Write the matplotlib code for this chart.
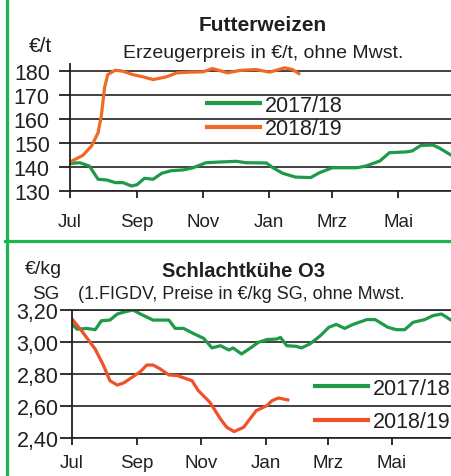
import matplotlib
matplotlib.use("Agg")
import matplotlib.pyplot as plt
from matplotlib.lines import Line2D

plt.rcParams["font.family"] = ["Liberation Sans", "DejaVu Sans"]

# days since 1 July
month_days = [0, 62, 123, 184, 243, 304]
month_labels = ["Jul", "Sep", "Nov", "Jan", "Mrz", "Mai"]

# Futterweizen, Euro/t
wheat_1718_x = [0, 9, 18, 26, 34, 42, 49, 57, 62, 69, 77, 85, 94, 105, 114, 126, 139, 154, 163,
                182, 188, 197, 209, 223, 231, 243, 256, 266, 274, 287, 296, 311, 317, 325, 336, 342, 353]
wheat_1718_y = [141.5, 141.8, 140.4, 134.9, 134.6, 133.5, 133.5, 132.1, 132.6, 135.3, 134.9, 137.4,
                138.5, 138.8, 139.7, 141.8, 142.1, 142.4, 141.8, 141.7, 139.7, 137.4, 135.8, 135.6,
                137.6, 139.7, 139.7, 139.7, 140.4, 142.5, 146.0, 146.3, 146.7, 149.0, 149.2, 148.0, 145.0]
wheat_1819_x = [0, 12, 20, 26, 29, 32, 35, 42, 49, 58, 68, 77, 89, 99, 111, 123, 132, 146, 157,
                172, 185, 199, 206, 212]
wheat_1819_y = [142.1, 144.9, 148.8, 154.3, 161.3, 173.1, 178.6, 180.4, 180.0, 178.6, 177.6, 176.5,
                177.6, 179.3, 179.6, 179.7, 181.1, 179.3, 180.3, 180.7, 179.6, 181.4, 180.7, 179.0]

# Schlachtkuehe O3, Euro/kg SG
cow_1718_x = [0, 5, 14, 22, 28, 36, 43, 51, 58, 65, 77, 92, 98, 106, 115, 125, 133, 141, 149, 153,
              161, 169, 177, 185, 195, 198, 204, 213, 218, 226, 236, 244, 251, 259, 267, 280, 288,
              300, 308, 316, 324, 335, 343, 351, 360]
cow_1718_y = [3.11, 3.08, 3.085, 3.077, 3.133, 3.137, 3.175, 3.19, 3.20, 3.175, 3.137, 3.137, 3.085,
              3.085, 3.054, 3.023, 2.963, 2.977, 2.95, 2.963, 2.925, 2.96, 2.998, 3.015, 3.019, 3.029,
              2.977, 2.973, 2.963, 2.988, 3.04, 3.092, 3.11, 3.085, 3.11, 3.14, 3.14, 3.092, 3.077,
              3.077, 3.123, 3.14, 3.165, 3.175, 3.137]
cow_1819_x = [0, 9, 22, 30, 36, 43, 49, 57, 65, 71, 77, 84, 92, 100, 114, 120, 131, 141, 147, 154,
              163, 175, 185, 190, 196, 205]
cow_1819_y = [3.144, 3.071, 2.956, 2.852, 2.758, 2.731, 2.744, 2.779, 2.815, 2.856, 2.856, 2.831,
              2.794, 2.79, 2.758, 2.696, 2.623, 2.519, 2.467, 2.44, 2.467, 2.571, 2.602, 2.633, 2.65,
              2.638]

green = "#1f9a48"
orange = "#f06a26"
red_orange = "#f0502a"
frame_green = "#1db550"
ink = "#231f20"

fig = plt.figure(figsize=(4.51, 4.77), dpi=100)


def px(x, y):
    # pixel position (from top-left) -> figure fraction
    return x / 451, 1 - y / 477


def style_axes(ax, yticks, ylabels, xmax, ylim, ylen, ypad, xpad):
    ax.set_xlim(0, xmax)
    ax.set_ylim(*ylim)
    ax.set_yticks(yticks)
    ax.set_yticklabels(ylabels)
    ax.set_xticks(month_days)
    ax.set_xticklabels(month_labels)
    for s in ["top", "right", "bottom"]:
        ax.spines[s].set_visible(False)
    ax.spines["left"].set_linewidth(1.3)
    ax.spines["left"].set_color(ink)
    ax.grid(axis="y", color=ink, linewidth=1.2)
    ax.set_axisbelow(True)
    ax.tick_params(axis="y", length=ylen, width=1.3, labelsize=15.5, pad=ypad, color=ink,
                   labelcolor=ink)
    ax.tick_params(axis="x", length=5, width=1.3, labelsize=13.5, pad=xpad, color=ink,
                   labelcolor=ink)
    ax.axhline(ylim[0], color=ink, lw=1.2, clip_on=False)
    ax.patch.set_alpha(0)


# top panel
l, b = px(70, 192)
ax1 = fig.add_axes([l, b, 1 - l, 127 / 477])
ax1.plot(wheat_1718_x, wheat_1718_y, color=green, lw=2.3)
ax1.plot(wheat_1819_x, wheat_1819_y, color=orange, lw=2.3)
style_axes(ax1, [130, 140, 150, 160, 170, 180], ["130", "140", "150", "160", "170", "180"],
           353, (130, 183), 8, 6.5, 11)
h1 = [Line2D([], [], color=green, lw=3), Line2D([], [], color=orange, lw=3)]
ax1.legend(h1, ["2017/18", "2018/19"], loc="center left", bbox_to_anchor=(0.36, 0.583),
           frameon=False, fontsize=15.5, handlelength=2.45, handletextpad=0.25,
           labelspacing=0.12, borderpad=0, borderaxespad=0, labelcolor=ink)

fig.text(*px(263, 31), "Futterweizen", ha="center", va="baseline",
         fontsize=15, fontweight="bold", color=ink)
fig.text(*px(263, 58), "Erzeugerpreis in €/t, ohne Mwst.", ha="center", va="baseline",
         fontsize=14, color=ink)
fig.text(*px(40, 52), "€/t", ha="center", va="baseline", fontsize=15, color=ink)

# bottom panel
l, b = px(72, 439)
ax2 = fig.add_axes([l, b, 1 - l, 128 / 477])
ax2.plot(cow_1718_x, cow_1718_y, color=green, lw=2.3)
ax2.plot(cow_1819_x, cow_1819_y, color=red_orange, lw=2.3)
style_axes(ax2, [2.4, 2.6, 2.8, 3.0, 3.2], ["2,40", "2,60", "2,80", "3,00", "3,20"],
           360, (2.4, 3.2), 9, 0.8, 6.5)
ax2.axhline(3.2, color=ink, lw=1.2, clip_on=False)
h2 = [Line2D([], [], color=green, lw=3), Line2D([], [], color=red_orange, lw=3)]
ax2.legend(h2, ["2017/18", "2018/19"], loc="center left", bbox_to_anchor=(0.641, 0.258),
           frameon=False, fontsize=15.5, handlelength=2.45, handletextpad=0.25,
           labelspacing=0.58, borderpad=0, borderaxespad=0, labelcolor=ink)

fig.text(*px(243, 277), "Schlachtkühe O3", ha="center", va="baseline",
         fontsize=14.5, fontweight="bold", color=ink)
fig.text(*px(241, 299), "(1.FIGDV, Preise in €/kg SG, ohne Mwst.", ha="center",
         va="baseline", fontsize=13, color=ink)
fig.text(*px(43, 274), "€/kg", ha="center", va="baseline", fontsize=14, color=ink)
fig.text(*px(46, 299), "SG", ha="center", va="baseline", fontsize=13.5, color=ink)

# green frame lines
fig.add_artist(Line2D([6.5 / 451, 6.5 / 451], [0, 1], color=frame_green, lw=2.3))
fig.add_artist(Line2D([5 / 451, 1], [1 - 241.5 / 477, 1 - 241.5 / 477], color=frame_green, lw=2.3))

fig.savefig("out.png", dpi=100)
